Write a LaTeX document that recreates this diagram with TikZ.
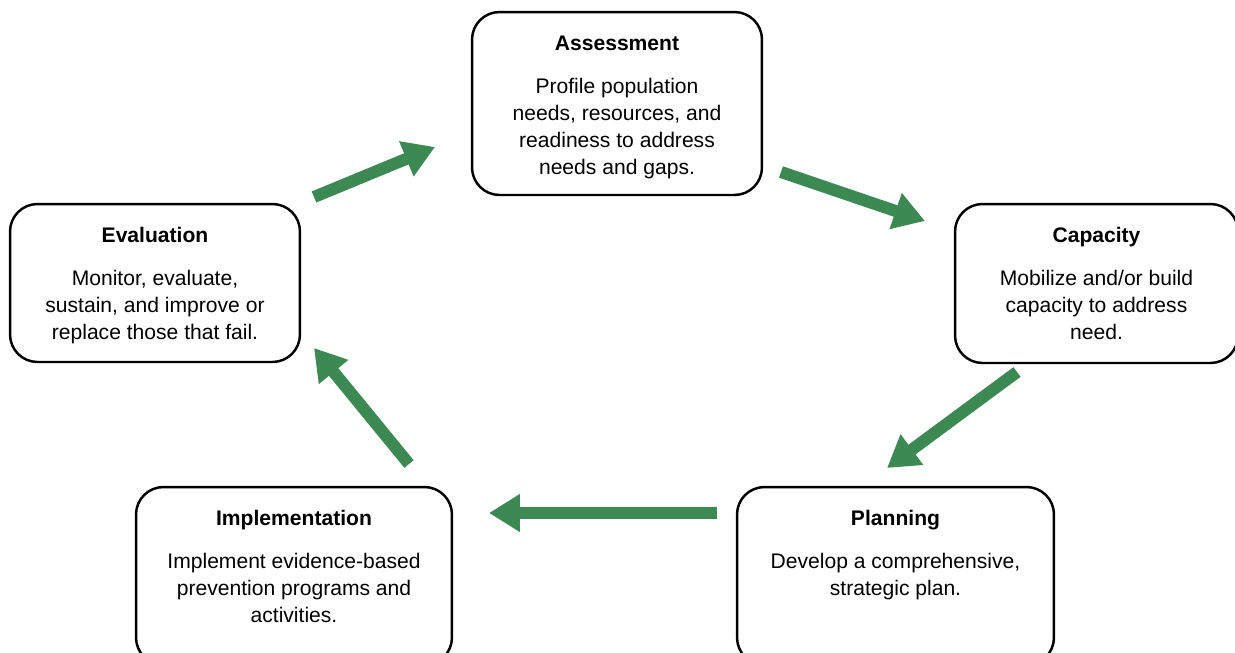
\documentclass[tikz,border=0pt]{standalone}
\usepackage{fontspec}
\setmainfont{Liberation Sans}
\usetikzlibrary{arrows.meta}
\definecolor{cyclegreen}{RGB}{60,137,83}
% box text: width, height, title, body
\newcommand{\stagetext}[4]{\parbox[c][#2][t]{#1}{\centering\fontsize{12}{15.4}\selectfont
	\rule{0pt}{22pt}\textbf{#3}\par\vspace{9pt}#4}}
\begin{document}
\begin{tikzpicture}[x=0.02cm,y=-0.02cm,line join=round,
		stage/.style={draw,line width=1.4pt,rounded corners=0.55cm,inner sep=0pt},
		flow/.style={-{Triangle[length=0.62cm,width=0.72cm]},line width=0.24cm,color=cyclegreen}]
	\useasboundingbox (0,0) rectangle (1235,653);
	\clip (0,0) rectangle (1235,653);
	\node[stage] (assess) at (617,103.5) {\stagetext{5.8cm}{3.66cm}{Assessment}{Profile population\\needs, resources, and\\readiness to address\\needs and gaps.}};
	\node[stage] (capac) at (1096.5,283.5) {\stagetext{5.66cm}{3.18cm}{Capacity}{Mobilize and/or build\\capacity to address\\need.}};
	\node[stage] (plan) at (895.5,576) {\stagetext{6.34cm}{3.56cm}{Planning}{Develop a comprehensive,\\strategic plan.}};
	\node[stage] (implem) at (294,576) {\stagetext{6.32cm}{3.56cm}{Implementation}{Implement evidence-based\\prevention programs and\\activities.}};
	\node[stage] (evalu) at (155,283) {\stagetext{5.8cm}{3.16cm}{Evaluation}{Monitor, evaluate,\\sustain, and improve or\\replace those that fail.}};
	% arrow ends
	\coordinate (ea-s) at (314,197); \coordinate (ea-e) at (435,147);
	\coordinate (ac-s) at (781,172); \coordinate (ac-e) at (925,221);
	\coordinate (cp-s) at (1017,372); \coordinate (cp-e) at (887,468);
	\coordinate (pi-s) at (717,513); \coordinate (pi-e) at (489,513);
	\coordinate (ie-s) at (409,464); \coordinate (ie-e) at (314,348);
	\foreach \a in {ea,ac,cp,pi,ie}
		\draw[flow] (\a-s)--(\a-e);
\end{tikzpicture}
\end{document}
